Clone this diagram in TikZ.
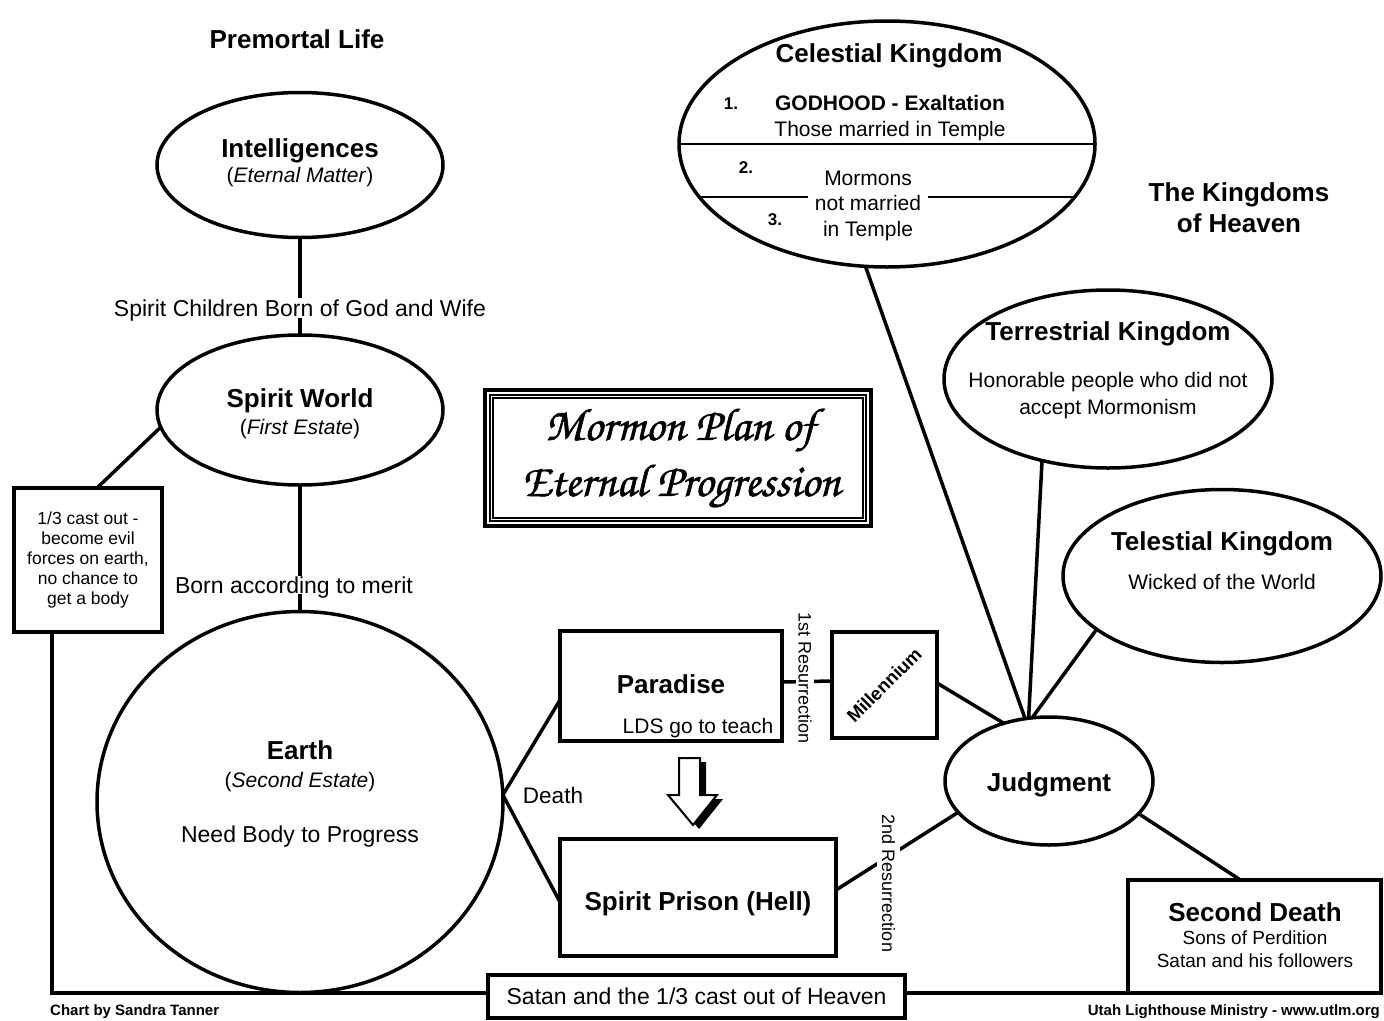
\documentclass[tikz,border=0pt]{standalone}
\usepackage{fontspec}
\setmainfont{Liberation Sans}
\newfontfamily\chorus[AutoFakeBold=1.2]{texgyrechorus-mediumitalic.otf}
\usetikzlibrary{shapes.geometric,calc}
\begin{document}
\begin{tikzpicture}[x=1pt,y=-1pt,
  lw/.style={line width=3.5pt},
  el/.style={draw, ellipse, lw, inner sep=0pt, outer sep=0pt},
  bx/.style={draw, rectangle, lw, inner sep=0pt, outer sep=0pt},
  T/.style={inner sep=0pt, font=\fontsize{#1}{#1}\selectfont,
    /utils/exec={\pgfmathsetmacro\mytexth{0.72*#1}}, text height=\mytexth pt, text depth=0pt},
  B/.style={T=#1, font=\fontsize{#1}{#1}\selectfont\bfseries},
  gap/.style={fill=white, inner xsep=4pt, inner ysep=2pt}
]
\useasboundingbox (0,0) rectangle (1384,1020);
\fill[white] (0,0) rectangle (1384,1020);

% ---- ellipses
\node[el, minimum width=286, minimum height=145] (intel) at (300,165) {};
\node[el, minimum width=286, minimum height=150] (sw) at (300,410) {};
\node[el, minimum width=406, minimum height=381] (earth) at (300,802) {};
\node[el, minimum width=416, minimum height=246] (ck) at (887,144) {};
\node[el, minimum width=328, minimum height=178] (tk) at (1108,379) {};
\node[el, minimum width=318, minimum height=173] (tel) at (1222,576) {};
\node[el, minimum width=208, minimum height=128] (judg) at (1049,781) {};

% ---- boxes
\node[bx, minimum width=148, minimum height=144, align=center,
      font=\fontsize{17.5}{20}\selectfont] (castout) at (88,560)
      {1/3 cast out -\\become evil\\forces on earth,\\no chance to\\get a body};
\node[bx, minimum width=222, minimum height=110] (par) at (671,686) {};
\node[bx, minimum width=276, minimum height=117] (pris) at (698,897.5) {};
\node[bx, minimum width=105, minimum height=106] (mill) at (884.5,685) {};
\node[bx, minimum width=253, minimum height=113] (sd) at (1254.5,936.5) {};
\node[bx, minimum width=417, minimum height=43, font=\fontsize{23}{23}\selectfont]
      (satan) at (696.5,996.5) {Satan and the 1/3 cast out of Heaven};

% ---- title box
\node[draw, line width=4pt, minimum width=386, minimum height=136, inner sep=0pt, outer sep=0pt] (title) at (678,458) {};
\draw[line width=1.2pt] ([shift={(5,5)}]title.north west) rectangle ([shift={(-5,-5)}]title.south east);
\draw[line width=1.2pt] ([shift={(8,8)}]title.north west) rectangle ([shift={(-8,-8)}]title.south east);
\node[inner sep=0pt, font=\chorus\bfseries\fontsize{46}{46}\selectfont] (title1) at (680,430) {Mormon Plan of};
\node[inner sep=0pt, font=\chorus\bfseries\fontsize{46}{46}\selectfont] (title2) at (681,486) {Eternal Progression};

% ---- connectors
\draw[lw] (intel.south) -- (sw.north);
\node[T=23, gap] (lab1) at (300,308) {Spirit Children Born of God and Wife};
\draw[lw] (sw.south) -- (earth.north);
\node[T=23, fill=white, inner xsep=1pt, inner ysep=1pt] (lab2) at (294,585) {Born according to merit};
\draw[lw] (sw.187) -- ([xshift=9pt]castout.north);
\draw[lw] ([xshift=38pt]castout.south west) |- ([yshift=3.5pt]satan.west);
\draw[lw] ([yshift=3.5pt]satan.east) -- (sd.south west);
\draw[lw] (earth.2) -- ([yshift=-14pt]par.west);
\draw[lw] (earth.2) -- ([yshift=-4.5pt]pris.west);
\node[T=22.5] (death) at (553,795) {Death};
\draw[lw] ([yshift=4pt]par.east) -- ([yshift=4pt]mill.west);
\node[T=18, rotate=-90, fill=white, inner xsep=0pt, inner ysep=2.5pt] (res1) at (805,678) {1st Resurrection};
\draw[lw] ([yshift=2pt]mill.east) -- (judg.128);
\draw[lw] ([yshift=7.5pt]pris.east) -- (judg.199);
\node[T=18, rotate=-90, fill=white, inner xsep=0pt, inner ysep=5pt] (res2) at (888.5,883.5) {2nd Resurrection};
\draw[lw] (ck.260) -- (judg.111);
\draw[lw] (tk.231) -- (judg.108);
\draw[lw] (tel.203) -- (judg.105);
\draw[lw] (judg.340) -- ([xshift=-14pt]sd.north);

% ---- hollow arrow with shadow
\fill[black] (685,762) -- (706,762) -- (706,799) -- (723,799) -- (699,829) -- (674,799) -- (685,799) -- cycle;
\filldraw[fill=white, draw=black, line width=2pt, line join=miter]
  (679,758) -- (700,758) -- (700,795) -- (717,795) -- (693,825) -- (668,795) -- (679,795) -- cycle;

% ---- texts
\node[B=26] (premortal) at (297,39) {Premortal Life};
\node[B=26] (intelT) at (300,148) {Intelligences};
\node[T=21] (intelS) at (300,175) {(\textit{Eternal Matter})};
\node[B=26] (swT) at (300,398) {Spirit World};
\node[T=21] (swS) at (300,427) {(\textit{First Estate})};
\node[B=26] (earthT) at (300,750) {Earth};
\node[T=21] (earthS) at (300,780) {(\textit{Second Estate})};
\node[T=23] (earthN) at (300,834) {Need Body to Progress};
\node[B=26] (parT) at (671,684) {Paradise};
\node[T=21] (parS) at (698,726) {LDS go to teach};
\node[B=26] (prisT) at (698,901) {Spirit Prison (Hell)};
\node[B=18.5, rotate=45] (millT) at (884,685) {Millennium};
\node[B=26] (judgT) at (1049,782) {Judgment};
\node[B=26] (sdT) at (1255,912) {Second Death};
\node[T=19] (sdS1) at (1255,938) {Sons of Perdition};
\node[T=19] (sdS2) at (1255,961) {Satan and his followers};

% celestial
\node[B=26] (ckT) at (889,53) {Celestial Kingdom};
\node[B=17] (n1) at (731,103) {1.};
\node[B=21] (ckG) at (890,103) {GODHOOD - Exaltation};
\node[T=21] (ckM) at (890,129) {Those married in Temple};
\draw[line width=2pt] (ck.west) -- (ck.east);
\draw[line width=2pt] ($(ck.center)+(-187.5,53)$) -- ($(ck.center)+(187.5,53)$);
\node[B=17] (n2) at (746,167) {2.};
\node[B=17] (n3) at (775,219) {3.};
\node[T=21] (mor1) at (868,178) {Mormons};
\node[T=21, fill=white, inner xsep=7pt, inner ysep=3pt] (mor2) at (868,203) {not married};
\node[T=21] (mor3) at (868,229) {in Temple};

\node[B=26] (koh1) at (1239,192) {The Kingdoms};
\node[B=26] (koh2) at (1239,223) {of Heaven};
\node[B=26] (tkT) at (1108,331) {Terrestrial Kingdom};
\node[T=21] (tkS1) at (1108,380) {Honorable people who did not};
\node[T=21] (tkS2) at (1108,407) {accept Mormonism};
\node[B=26] (telT) at (1222,541) {Telestial Kingdom};
\node[T=21] (telS) at (1222,582) {Wicked of the World};

\node[B=15, anchor=west] (foot1) at (50,1010) {Chart by Sandra Tanner};
\node[B=15, anchor=east] (foot2) at (1380,1010) {Utah Lighthouse Ministry - www.utlm.org};
\end{tikzpicture}
\end{document}
